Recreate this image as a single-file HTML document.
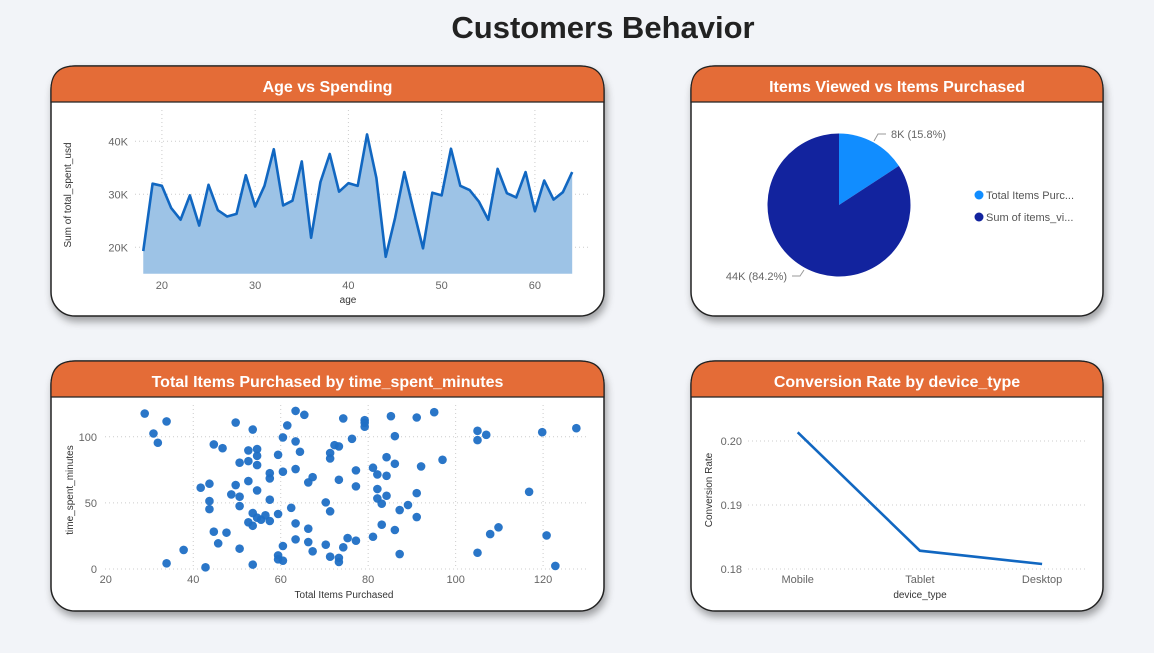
<!DOCTYPE html>
<html><head><meta charset="utf-8"><style>
html,body{margin:0;padding:0;width:1154px;height:653px;overflow:hidden;background:#f2f4f8;font-family:"Liberation Sans",sans-serif;}
svg text{font-family:"Liberation Sans",sans-serif;}
</style></head><body>
<svg id="svg" width="1154" height="653" viewBox="0 0 1154 653" xmlns="http://www.w3.org/2000/svg">
<defs>
<filter id="sh" x="-10%" y="-10%" width="120%" height="130%"><feDropShadow dx="2" dy="5" stdDeviation="4" flood-color="#000" flood-opacity="0.35"/></filter>
</defs>
<text x="603" y="38" text-anchor="middle" font-size="31" font-weight="bold" fill="#222">Customers Behavior</text>
<g id="cards"></g>
<g id="c1"></g>
<g id="c2"></g>
<g id="c3"></g>
<g id="c4"></g>
</svg>
<script>
// ---- data ----
const ages = [18,19,20,21,22,23,24,25,26,27,28,29,30,31,32,33,34,35,36,37,38,39,40,41,42,43,44,45,46,47,48,49,50,51,52,53,54,55,56,57,58,59,60,61,62,63,64];
const spending = [19.3,32.0,31.6,27.4,25.2,29.8,24.1,31.8,27.0,25.8,26.3,33.6,27.7,31.6,38.5,27.9,28.8,36.2,21.8,32.3,37.6,30.5,32.1,31.6,41.3,33.1,18.2,25.5,34.2,26.9,19.8,30.3,29.8,38.6,31.6,30.8,28.6,25.2,34.8,30.2,29.4,34.2,26.8,32.6,29.0,30.4,34.2];
const ageTicks = [20,30,40,50,60];
const spendTicks = [20,30,40];
const pieLabels = ["Total Items Purc...","Sum of items_vi..."];
const pieValues = [8.2,43.7];
const pieTexts = ["8K (15.8%)","44K (84.2%)"];
const scatterX = [28.9,30.9,31.9,33.9,33.9,37.8,41.7,42.8,43.7,43.7,43.7,44.7,44.7,45.7,46.7,47.6,48.7,49.7,49.7,50.6,50.6,50.6,50.6,52.6,52.6,52.6,52.6,53.6,53.6,53.6,53.6,54.6,54.6,54.6,54.6,54.6,55.5,56.5,57.5,57.5,57.5,57.5,59.4,59.4,59.4,59.4,60.5,60.5,60.5,60.5,61.5,62.4,63.4,63.4,63.4,63.4,63.4,64.4,65.4,66.3,66.3,66.3,67.3,67.3,70.3,70.3,71.3,71.3,71.3,71.3,72.3,73.3,73.3,73.3,73.3,74.3,74.3,75.3,76.3,77.2,77.2,77.2,79.2,79.2,79.2,81.1,81.1,82.1,82.1,82.1,83.1,83.1,84.2,84.2,84.2,85.2,86.1,86.1,86.1,87.2,87.2,89.1,91.1,91.1,91.1,92.1,95.1,97.0,105.0,105.0,105.0,107.0,107.9,109.8,116.8,119.8,120.8,122.8,127.6];
const scatterY = [117.6,102.5,95.5,111.6,4.3,14.4,61.5,1.3,64.5,51.4,45.3,94.2,28.2,19.4,91.4,27.5,56.4,63.5,110.8,54.7,47.6,15.4,80.4,89.7,81.6,66.5,35.3,105.5,42.3,32.7,3.3,90.7,85.6,78.6,59.4,38.8,37.3,40.6,72.5,68.5,52.4,36.3,86.4,41.6,10.3,7.3,99.5,73.6,17.4,6.3,108.6,46.3,119.6,96.5,75.6,34.5,22.4,88.7,116.6,65.5,30.5,20.4,69.5,13.4,50.4,18.4,87.7,83.6,43.6,9.3,93.7,92.7,67.5,8.4,5.3,113.9,16.4,23.4,98.5,74.6,62.5,21.4,112.6,110.6,107.6,76.6,24.4,71.5,60.5,53.4,49.4,33.5,84.6,70.5,55.4,115.6,100.5,79.6,29.5,44.6,11.3,48.4,114.6,57.4,39.3,77.6,118.6,82.6,104.5,97.5,12.3,101.5,26.4,31.5,58.4,103.5,25.4,2.3,106.5];
const scatterXTicks = [20,40,60,80,100,120];
const scatterYTicks = [0,50,100];
const devices = ["Mobile","Tablet","Desktop"];
const convRate = [0.20135,0.18286,0.18078];
const convTicks = [0.18,0.19,0.20];

const NS="http://www.w3.org/2000/svg";
function mk(parent,tag,attrs,txt){const e=document.createElementNS(NS,tag);for(const k in attrs)e.setAttribute(k,attrs[k]);if(txt!==undefined)e.textContent=txt;parent.appendChild(e);return e;}
const lab={fill:"#666","font-size":"11"};

// ---- cards ----
const cardsG=document.getElementById('cards');
const cards=[[51,66,553,250,"Age vs Spending"],[691,66,412,250,"Items Viewed vs Items Purchased"],[51,361,553,250,"Total Items Purchased by time_spent_minutes"],[691,361,412,250,"Conversion Rate by device_type"]];
cards.forEach((c,i)=>{
  const [x,y,w,h,t]=c;
  const g=mk(cardsG,'g',{});
  
  
  mk(g,'rect',{x:x,y:y,width:w,height:h,rx:24,fill:"#fff",stroke:"#222","stroke-width":1.5,filter:"url(#sh)"});
  mk(g,'path',{d:`M${x} ${y+36} L${x} ${y+24} Q${x} ${y} ${x+24} ${y} L${x+w-24} ${y} Q${x+w} ${y} ${x+w} ${y+24} L${x+w} ${y+36} Z`,fill:"#E46C37",stroke:"#222","stroke-width":1.2});
  const tt=mk(g,'text',{x:x+w/2,y:y+26,"text-anchor":"middle","font-size":"16","font-weight":"bold",fill:"#fff"},t);
  
  
});

// ---- chart 1 ----
(function(){
  const g=document.getElementById('c1');
  const xs=a=>161.9+(a-20)*9.325, ys=v=>247.3-(v-20)*5.3;
  spendTicks.forEach(v=>{mk(g,'line',{x1:135,x2:590,y1:ys(v),y2:ys(v),stroke:"#ccc","stroke-dasharray":"1,3"});mk(g,'text',Object.assign({x:128,y:ys(v)+4,"text-anchor":"end"},lab),v+"K");});
  ageTicks.forEach(a=>{mk(g,'line',{x1:xs(a),x2:xs(a),y1:110,y2:274,stroke:"#ccc","stroke-dasharray":"1,3"});mk(g,'text',Object.assign({x:xs(a),y:289,"text-anchor":"middle"},lab),a);});
  let d="M"+xs(ages[0])+" "+ys(15);
  ages.forEach((a,i)=>d+=" L"+xs(a)+" "+ys(spending[i]));
  d+=" L"+xs(ages[ages.length-1])+" "+ys(15)+" Z";
  const ar=mk(g,'path',{d:d,fill:"#9DC3E6"});
  
  
  const ln=mk(g,'polyline',{points:ages.map((a,i)=>xs(a)+","+ys(spending[i])).join(" "),fill:"none",stroke:"#1167C1","stroke-width":2.6,"stroke-linejoin":"round"});
  
  
  mk(g,'text',{x:348,y:303,"text-anchor":"middle","font-size":"10",fill:"#333"},"age");
  mk(g,'text',{x:71,y:195,"text-anchor":"middle","font-size":"10",fill:"#333",transform:"rotate(-90 71 195)"},"Sum of total_spent_usd");
})();

// ---- chart 2 pie ----
(function(){
  const g=document.getElementById('c2');
  const cx=839,cy=205,r=71.5,cols=["#118DFF","#12239E"];
  const tot=pieValues.reduce((a,b)=>a+b,0);
  let a0=-Math.PI/2;
  pieValues.forEach((v,i)=>{
    const a1=a0+v/tot*2*Math.PI;
    const large=(a1-a0)>Math.PI?1:0;
    const p=mk(g,'path',{d:`M${cx} ${cy} L${cx+r*Math.cos(a0)} ${cy+r*Math.sin(a0)} A${r} ${r} 0 ${large} 1 ${cx+r*Math.cos(a1)} ${cy+r*Math.sin(a1)} Z`,fill:cols[i]});
    
    
    a0=a1;
  });
  mk(g,'polyline',{points:"874,141 878,134 886,134",fill:"none",stroke:"#999"});
  mk(g,'text',Object.assign({x:891,y:138,"font-size":"10"},lab),pieTexts[0]);
  mk(g,'polyline',{points:"804,270 800,276 792,276",fill:"none",stroke:"#999"});
  mk(g,'text',Object.assign({x:787,y:280,"text-anchor":"end","font-size":"10"},lab),pieTexts[1]);
  pieLabels.forEach((l,i)=>{
    const y=195+22*i;
    const le=mk(g,'g',{});
    
    
    mk(le,'circle',{cx:979,cy:y,r:4.5,fill:cols[i]});
    mk(le,'text',{x:986,y:y+4,"font-size":"11",fill:"#555"},l);
  });
})();

// ---- chart 3 scatter ----
(function(){
  const g=document.getElementById('c3');
  const xs=v=>105.8+(v-20)*4.373, ys=v=>569-v*1.322;
  scatterYTicks.forEach(v=>{mk(g,'line',{x1:105,x2:588,y1:ys(v),y2:ys(v),stroke:"#ccc","stroke-dasharray":"1,3"});mk(g,'text',Object.assign({x:97,y:ys(v)+4,"text-anchor":"end"},lab),v);});
  scatterXTicks.forEach(v=>{if(v>20)mk(g,'line',{x1:xs(v),x2:xs(v),y1:405,y2:569,stroke:"#ccc","stroke-dasharray":"1,3"});mk(g,'text',Object.assign({x:xs(v),y:583,"text-anchor":"middle"},lab),v);});
  scatterX.forEach((x,i)=>{
    const c=mk(g,'circle',{cx:xs(x),cy:ys(scatterY[i]),r:4.3,fill:"#1F6FC5","fill-opacity":0.95});
    
    
  });
  mk(g,'text',{x:344,y:598,"text-anchor":"middle","font-size":"10",fill:"#333"},"Total Items Purchased");
  mk(g,'text',{x:73,y:490,"text-anchor":"middle","font-size":"10",fill:"#333",transform:"rotate(-90 73 490)"},"time_spent_minutes");
})();

// ---- chart 4 line ----
(function(){
  const g=document.getElementById('c4');
  const xs=i=>797.7+i*122.2, ys=v=>569-(v-0.18)*6400;
  convTicks.forEach(v=>{mk(g,'line',{x1:748,x2:1088,y1:ys(v),y2:ys(v),stroke:"#ccc","stroke-dasharray":"1,3"});mk(g,'text',Object.assign({x:742,y:ys(v)+4,"text-anchor":"end"},lab),v.toFixed(2));});
  devices.forEach((d,i)=>mk(g,'text',Object.assign({x:xs(i),y:583,"text-anchor":"middle"},lab),d));
  const ln=mk(g,'polyline',{points:convRate.map((v,i)=>xs(i)+","+ys(v)).join(" "),fill:"none",stroke:"#1167C1","stroke-width":2.6});
  
  
  mk(g,'text',{x:920,y:598,"text-anchor":"middle","font-size":"10",fill:"#333"},"device_type");
  mk(g,'text',{x:712,y:490,"text-anchor":"middle","font-size":"10",fill:"#333",transform:"rotate(-90 712 490)"},"Conversion Rate");
})();
</script>
</body></html>
